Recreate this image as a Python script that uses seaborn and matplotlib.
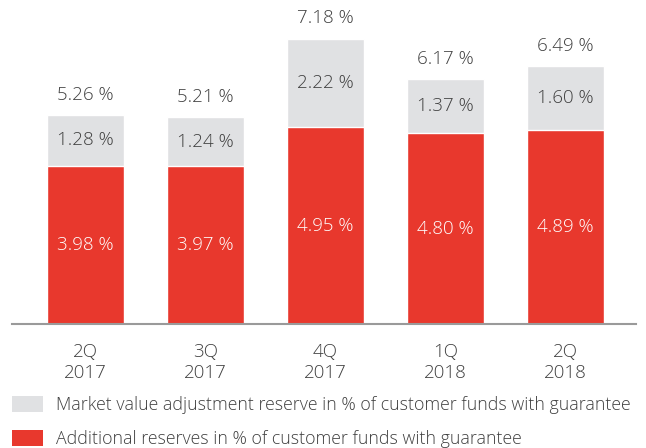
import matplotlib.pyplot as plt
import pandas as pd
import seaborn as sns
from matplotlib.patches import Patch

sns.set_style('white')
plt.rcParams['font.family'] = ['Open Sans', 'DejaVu Sans']
plt.rcParams['font.weight'] = 'light'

quarters = ["2Q\n2017", "3Q\n2017", "4Q\n2017", "1Q\n2018", "2Q\n2018"]
additional = [3.98, 3.97, 4.95, 4.80, 4.89]
market_adj = [1.28, 1.24, 2.22, 1.37, 1.60]
totals = [5.26, 5.21, 7.18, 6.17, 6.49]

red = '#e8382d'
grey = '#e0e1e3'
text_col = '#404040'

df = pd.DataFrame({"quarter": quarters, "additional": additional,
                   "market": market_adj, "total": totals})

fig = plt.figure(figsize=(6.46, 4.48), dpi=100)
ax = fig.add_axes([12 / 646, 124 / 448, 624 / 646, 324 / 448])

sns.barplot(data=df, x="quarter", y="total", color=grey, width=0.64,
            saturation=1, ax=ax)
sns.barplot(data=df, x="quarter", y="additional", color=red, width=0.64,
            saturation=1, ax=ax)

for i, row in df.iterrows():
    ax.text(i, row.total + 0.28, f"{row.total:.2f} %", ha='center', va='bottom',
            fontsize=13.5, color=text_col)
    ax.text(i, row.additional + row.market / 2, f"{row.market:.2f} %",
            ha='center', va='center', fontsize=13.5, color=text_col)
    ax.text(i, row.additional / 2, f"{row.additional:.2f} %",
            ha='center', va='center', fontsize=13.5, color='white')

ax.set_xlim(-0.61, 4.59)
ax.set_ylim(0, 8.15)
ax.set_xlabel('')
ax.set_ylabel('')
ax.set_yticks([])
ax.tick_params(axis='x', length=0, pad=14, labelsize=13.5, labelcolor=text_col)
for t in ax.get_xticklabels():
    t.set_linespacing(1.2)
sns.despine(ax=ax, left=True)
ax.spines['bottom'].set_color('#9a9a9a')
ax.spines['bottom'].set_linewidth(1.5)

handles = [Patch(facecolor=grey, edgecolor='none'),
           Patch(facecolor=red, edgecolor='none')]
labels = ["Market value adjustment reserve in % of customer funds with guarantee",
          "Additional reserves in % of customer funds with guarantee"]
leg = fig.legend(handles, labels, loc='upper left', bbox_to_anchor=(12 / 646, 1 - 396 / 448),
                 frameon=False, fontsize=12.8, handlelength=1.75, handleheight=0.95,
                 handletextpad=0.75, labelspacing=0.9, borderpad=0, borderaxespad=0)
for t in leg.get_texts():
    t.set_color(text_col)

fig.savefig('out.png', dpi=100)
